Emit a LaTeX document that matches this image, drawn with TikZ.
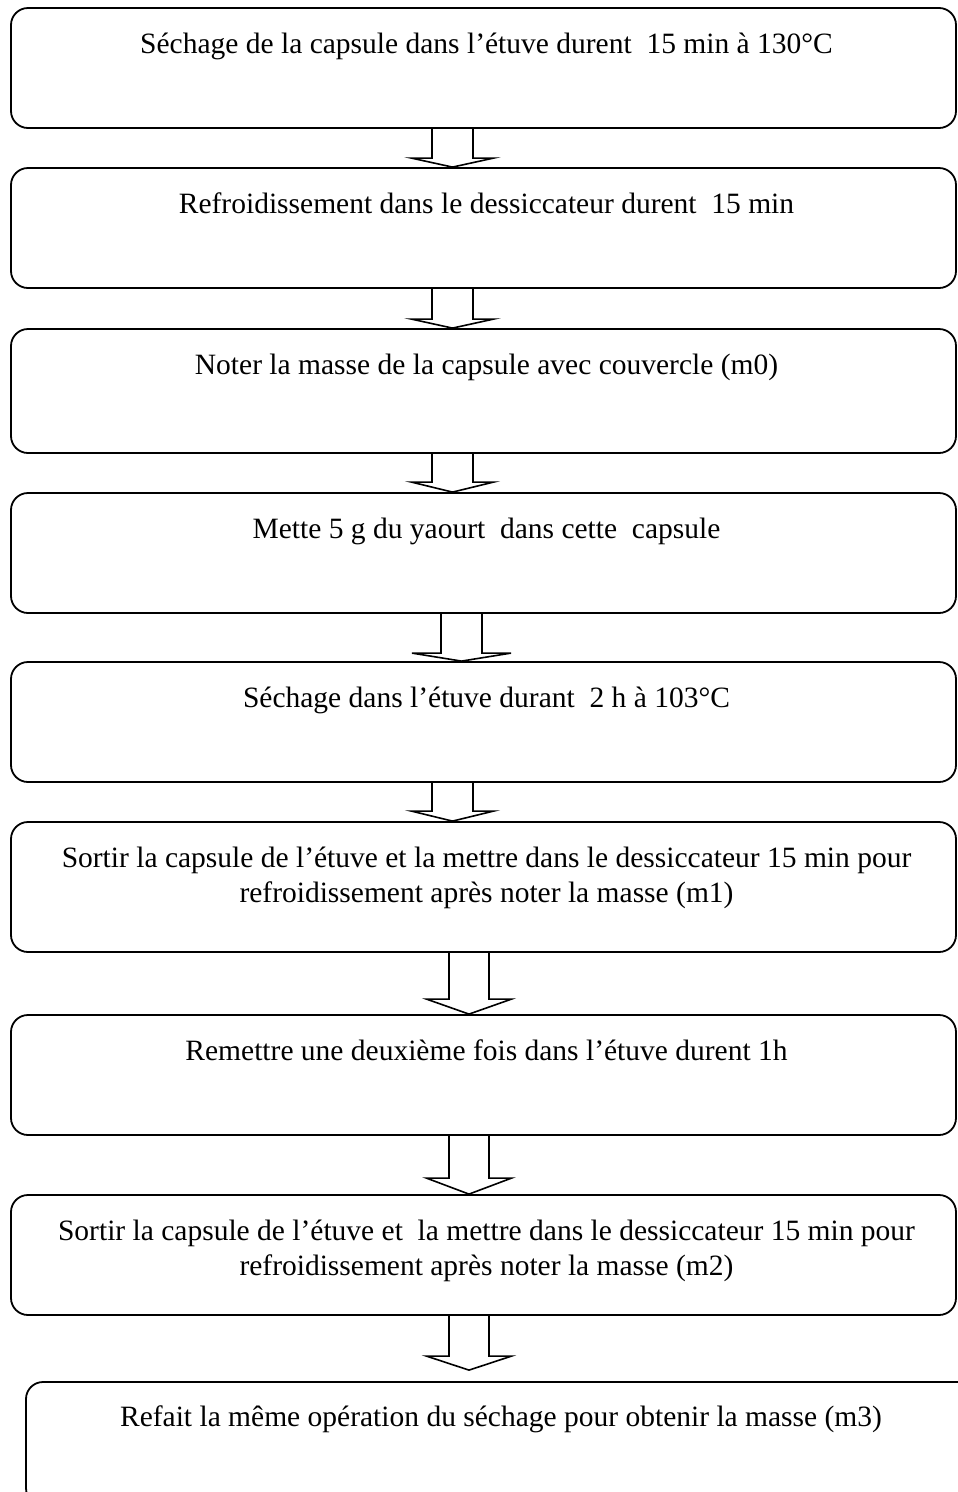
\documentclass[tikz,border=0pt]{standalone}
\usepackage{fontspec}
\setmainfont{Liberation Serif}
\usetikzlibrary{calc}
\tikzset{
  flowbox/.style={draw=black, line width=1.8pt, rounded corners=17pt, inner sep=0pt, fill=none},
  steptext/.style={anchor=base, inner sep=0pt, align=center, font=\fontsize{29.5}{35}\selectfont},
  arrowline/.style={draw=black, line width=1.6pt, line join=miter}
}
\newcommand\blockarrow[7]{%
  \pgfmathsetmacro\bxsl{#3-#4}\pgfmathsetmacro\bxsr{#3+#4}%
  \pgfmathsetmacro\bxhl{#3-#5}\pgfmathsetmacro\bxhr{#3+#5}%
  \draw[arrowline] (#1.south -| \bxsl,0)
    -- ($(#2.north -| \bxsl,0)+(0,-#6-#7)$)
    -- ($(#2.north -| \bxhl,0)+(0,-#6-#7)$)
    -- ($(#2.north -| #3,0)+(0,-#7)$)
    -- ($(#2.north -| \bxhr,0)+(0,-#6-#7)$)
    -- ($(#2.north -| \bxsr,0)+(0,-#6-#7)$)
    -- (#1.south -| \bxsr,0);}
\begin{document}
\begin{tikzpicture}[x=1pt,y=-1pt]
\useasboundingbox (0,0) rectangle (958,1492);
\clip (0,0) rectangle (958,1492);
\fill[white] (0,0) rectangle (958,1492);
% boxes
\node[flowbox, minimum width=945pt, minimum height=120pt] (b1) at (483.5,68) {};
\node[flowbox, minimum width=945pt, minimum height=120pt] (b2) at (483.5,228) {};
\node[flowbox, minimum width=945pt, minimum height=124pt] (b3) at (483.5,391) {};
\node[flowbox, minimum width=945pt, minimum height=120pt] (b4) at (483.5,553) {};
\node[flowbox, minimum width=945pt, minimum height=120pt] (b5) at (483.5,722) {};
\node[flowbox, minimum width=945pt, minimum height=130pt] (b6) at (483.5,887) {};
\node[flowbox, minimum width=945pt, minimum height=120pt] (b7) at (483.5,1075) {};
\node[flowbox, minimum width=945pt, minimum height=120pt] (b8) at (483.5,1255) {};
\node[flowbox, minimum width=990pt, minimum height=123pt] (b9) at (521,1443.5) {};
% texts
\node[steptext] (t1) at (486.5,53) {Séchage de la capsule dans l’étuve durent~~15 min à 130°C};
\node[steptext] (t2) at (486.5,213) {Refroidissement dans le dessiccateur durent~~15 min};
\node[steptext] (t3) at (486.5,374) {Noter la masse de la capsule avec couvercle (m0)};
\node[steptext] (t4) at (486.5,538) {Mette 5 g du yaourt~~dans cette~~capsule};
\node[steptext] (t5) at (486.5,707) {Séchage dans l’étuve durant~~2 h à 103°C};
\node[steptext] (t6) at (486.5,902) {Sortir la capsule de l’étuve et la mettre dans le dessiccateur 15 min pour\\refroidissement après noter la masse (m1)};
\node[steptext] (t7) at (486.5,1060) {Remettre une deuxième fois dans l’étuve durent 1h};
\node[steptext] (t8) at (486.5,1275) {Sortir la capsule de l’étuve et~~la mettre dans le dessiccateur 15 min pour\\refroidissement après noter la masse (m2)};
\node[steptext] (t9) at (501,1426) {Refait la même opération du séchage pour obtenir la masse (m3)};
% arrows
\blockarrow{b1}{b2}{452.5}{20.5}{41}{9}{0}
\blockarrow{b2}{b3}{452.5}{20.5}{41}{9}{0}
\blockarrow{b3}{b4}{452.5}{20.5}{41}{10}{0}
\blockarrow{b4}{b5}{461.5}{20.5}{49.5}{8}{0}
\blockarrow{b5}{b6}{452.5}{20.5}{41}{10}{0}
\blockarrow{b6}{b7}{469}{20}{42.5}{15}{0}
\blockarrow{b7}{b8}{469}{20}{42.5}{16}{0}
\blockarrow{b8}{b9}{469}{20}{42.5}{14}{11}
\end{tikzpicture}
\end{document}
